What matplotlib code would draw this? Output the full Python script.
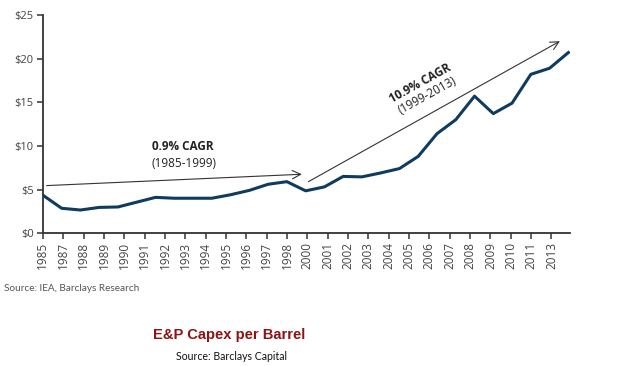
import numpy as np
import matplotlib
matplotlib.use("Agg")
import matplotlib.pyplot as plt

# E&P capex per barrel, USD, one value per year 1985-2013
years = list(range(1985, 2014))
capex = [4.35, 2.85, 2.65, 2.95, 3.0, 3.55, 4.1, 4.0, 4.0, 4.0,
         4.4, 4.9, 5.6, 5.9, 4.85, 5.3, 6.5, 6.45, 6.9, 7.4,
         8.8, 11.4, 13.0, 15.7, 13.7, 14.9, 18.2, 18.9, 20.7]

# category labels as printed under the axis (the source skips a few years)
tick_labels = ["1985", "1987", "1988", "1989", "1990", "1991", "1992", "1993",
               "1994", "1995", "1996", "1997", "1998", "2000", "2001", "2002",
               "2003", "2004", "2005", "2006", "2007", "2008", "2009", "2010",
               "2011", "2013"]
yticks = [0, 5, 10, 15, 20, 25]

# trend arrows: (start index, start value, end index, end value)
arrow_early = (0.2, 5.45, 13.8, 6.75)
arrow_late = (14.15, 5.9, 27.55, 22.0)

plt.rcParams["font.family"] = ["Open Sans", "DejaVu Sans"]

fig = plt.figure(figsize=(6.4, 3.66), dpi=100)
ax = fig.add_axes([0.067, 0.363, 0.824, 0.596])

x = np.arange(len(years))
ax.plot(x, capex, color="#0f3b5f", linewidth=2.2, solid_joinstyle="round",
        zorder=5)

ax.set_xlim(0, 28.1)
ax.set_ylim(0, 25)

# the printed tick spacing is slightly tighter than the data spacing
tick_pos = np.linspace(0, 27.1, len(tick_labels))
ax.set_xticks(tick_pos)
ax.set_xticklabels(tick_labels, rotation=90, fontsize=8.5, color="#444444")
ax.set_yticks(yticks)
ax.set_yticklabels([f"${v}" for v in yticks], fontsize=8, color="#444444")

for side in ("top", "right"):
    ax.spines[side].set_visible(False)
for side in ("left", "bottom"):
    ax.spines[side].set_color("#333333")
    ax.spines[side].set_linewidth(1.3)
ax.tick_params(axis="both", direction="out", length=4, width=1.1,
               color="#333333", pad=2.5)

for x0, y0, x1, y1 in (arrow_early, arrow_late):
    ax.annotate("", xy=(x1, y1), xytext=(x0, y0),
                arrowprops=dict(arrowstyle="->", color="#333333", lw=0.8,
                                mutation_scale=15, shrinkA=0, shrinkB=0))

ax.text(7.45, 9.9, "0.9% CAGR", ha="center", va="center", fontsize=8.5,
        fontweight="bold", color="#222222")
ax.text(7.5, 8.0, "(1985-1999)", ha="center", va="center", fontsize=8.5,
        color="#222222")
ax.text(20.1, 17.2, "10.9% CAGR", ha="center", va="center", fontsize=8.5,
        fontweight="bold", color="#222222", rotation=29,
        rotation_mode="anchor")
ax.text(20.5, 15.8, "(1999-2013)", ha="center", va="center", fontsize=8.5,
        color="#222222", rotation=29, rotation_mode="anchor")

fig.text(0.006, 0.213, "Source: IEA, Barclays Research", ha="left",
         va="center", fontsize=7.2, color="#555555", family="Lato")
fig.text(0.358, 0.085, "E&P Capex per Barrel", ha="center", va="center",
         fontsize=10.6, fontweight="bold", color="#8b1414",
         family="Liberation Sans")
fig.text(0.362, 0.027, "Source: Barclays Capital", ha="center", va="center",
         fontsize=7.6, color="#111111", family="Lato")

fig.savefig("out.png", dpi=100)
